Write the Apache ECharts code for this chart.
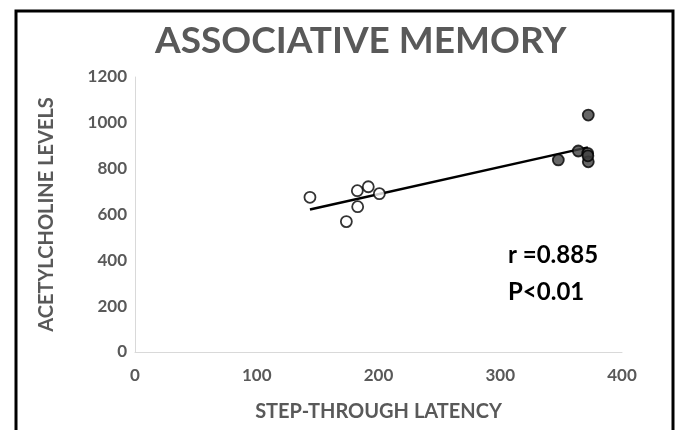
<!DOCTYPE html>
<html>
<head>
<meta charset="utf-8">
<script src="https://cdn.jsdelivr.net/npm/echarts@6/dist/echarts.min.js"></script>
<style>html,body{margin:0;padding:0;background:#fff}#c{width:681px;height:430px}</style>
</head>
<body>
<div id="c"></div>
<script>
const titleText = 'ASSOCIATIVE MEMORY';
const xName = 'STEP-THROUGH LATENCY';
const yName = 'ACETYLCHOLINE LEVELS';
const annotation = ['r =0.885', 'P<0.01'];
// open circles (group 1): [latency, level]
const openPoints = [[143.7,675],[182.6,704],[191.6,721],[200.7,691],[182.9,634],[173.6,569]];
// filled circles (group 2)
const filledPoints = [[347.7,838],[364.1,877],[371.8,867],[372.3,830],[372.3,1034],[372.0,856]];
// trend line endpoints
const trendLine = [[143.7,622],[372,893]];

const chart = echarts.init(document.getElementById('c'), null, {renderer:'canvas'});
const FONT = 'Lato';
const GRAY = '#595959';
chart.setOption({
  animation:false,
  title:{text:titleText,left:150,top:18,textStyle:{fontFamily:FONT,fontWeight:'bold',fontSize:37,color:GRAY}},
  grid:{left:135,right:59,top:77,bottom:78},
  xAxis:{type:'value',min:0,max:400,interval:100,
    name:xName,nameLocation:'middle',nameGap:50,
    nameTextStyle:{fontFamily:FONT,fontWeight:'bold',fontSize:20,color:GRAY},
    axisLine:{show:true,lineStyle:{color:'#d9d9d9',width:1}},axisTick:{show:false},splitLine:{show:false},
    axisLabel:{fontFamily:FONT,fontWeight:'bold',fontSize:17,color:GRAY,margin:15,formatter:v=>String(v)}},
  yAxis:{type:'value',min:0,max:1200,interval:200,
    name:yName,nameLocation:'middle',nameGap:78,
    nameTextStyle:{fontFamily:FONT,fontWeight:'bold',fontSize:20,color:GRAY},
    axisLine:{show:true,lineStyle:{color:'#d9d9d9',width:1}},axisTick:{show:false},splitLine:{show:false},
    axisLabel:{fontFamily:FONT,fontWeight:'bold',fontSize:17,color:GRAY,margin:8,formatter:v=>String(v)}},
  series:[
    {type:'line',data:trendLine,symbol:'none',lineStyle:{color:'#000',width:2.5},z:1},
    {type:'scatter',data:openPoints,symbol:'circle',symbolSize:11,itemStyle:{color:'#fff',borderColor:'#000',borderWidth:1.8},z:2},
    {type:'scatter',data:filledPoints,symbol:'circle',symbolSize:11,itemStyle:{color:'#404040',borderColor:'#000',borderWidth:1.8},z:3}
  ],
  graphic:[
    {type:'polyline',shape:{points:[[16,430],[16,11],[673,11],[673,430]]},style:{stroke:'#000',lineWidth:3,fill:null},z:10},
    {type:'text',x:508,y:255,style:{text:annotation[0],textAlign:'left',textVerticalAlign:'middle',font:'bold 24px Lato',fill:'#000'}},
    {type:'text',x:508,y:292,style:{text:annotation[1],textAlign:'left',textVerticalAlign:'middle',font:'bold 24px Lato',fill:'#000'}}
  ]
});
</script>
</body>
</html>
